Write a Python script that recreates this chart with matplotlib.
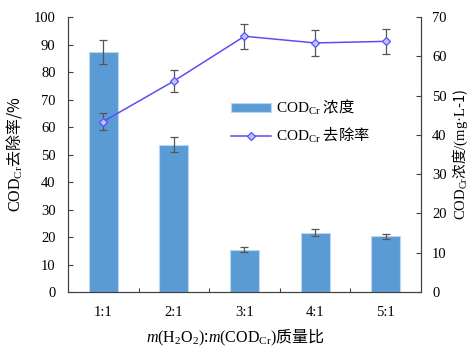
import matplotlib
matplotlib.use("Agg")
import matplotlib.pyplot as plt
import numpy as np

plt.rcParams['font.family'] = ['Liberation Serif', 'Noto Sans CJK SC']
plt.rcParams['mathtext.fontset'] = 'custom'
plt.rcParams['mathtext.rm'] = 'Liberation Serif'
plt.rcParams['mathtext.it'] = 'Liberation Serif:italic'
plt.rcParams['mathtext.bf'] = 'Liberation Serif:bold'

ratios = ['1:1', '2:1', '3:1', '4:1', '5:1']
# bars, read on the left scale
conc = [87.2, 53.6, 15.4, 21.6, 20.3]
conc_err = [4.3, 2.8, 0.8, 1.2, 0.9]
# line, read on the right scale
removal = [43.4, 53.7, 65.1, 63.4, 63.8]
removal_err = [2.2, 2.7, 3.2, 3.2, 3.1]

cjk = 'Noto Sans CJK SC'
bar_color = '#5b9bd5'
line_color = '#5a50f0'
err_color = '#555555'
tick_size = 10.5
label_size = 11.5

fig = plt.figure(figsize=(4.74, 3.47), dpi=100)
ax = fig.add_axes([0.1435, 0.1585, 0.7445, 0.7925])
ax2 = ax.twinx()

x = np.arange(len(ratios))
bars = ax.bar(x, conc, width=0.41, color=bar_color, edgecolor='#bcd6ee',
              linewidth=0.8, zorder=2, label=r'$\mathrm{COD_{Cr}}$ 浓度')
ax.errorbar(x, conc, yerr=conc_err, fmt='none', ecolor=err_color,
            elinewidth=0.9, capsize=3, capthick=0.9, zorder=3)

ax2.errorbar(x, removal, yerr=removal_err, fmt='none', ecolor=err_color,
             elinewidth=0.9, capsize=3, capthick=0.9, zorder=3)
line, = ax2.plot(x, removal, color=line_color, lw=1.1, marker='D',
                 markersize=4, markerfacecolor='#bcc4ff',
                 markeredgecolor=line_color, markeredgewidth=0.9,
                 zorder=4, label=r'$\mathrm{COD_{Cr}}$ 去除率')

ax.set_xlim(-0.5, len(ratios) - 0.5)
ax.set_ylim(0, 100)
ax2.set_ylim(0, 70)
ax.set_yticks(np.arange(0, 101, 10))
ax2.set_yticks(np.arange(0, 71, 10))

ax.set_xticks(x)
ax.set_xticklabels(ratios)
ax.set_xticks(np.arange(0.5, len(ratios) - 1, 1), minor=True)
ax.tick_params(axis='x', which='major', length=0, pad=10, labelsize=tick_size)
ax.tick_params(axis='x', which='minor', direction='in', length=3, width=0.8,
               color='#404040')
ax.tick_params(axis='y', direction='in', length=3.5, width=0.8,
               color='#404040', labelsize=tick_size, pad=9)
ax2.tick_params(axis='y', direction='in', length=3.5, width=0.8,
                color='#404040', labelsize=tick_size, pad=8)

for a in (ax, ax2):
    a.spines['top'].set_visible(False)
    for s in ('left', 'right', 'bottom'):
        a.spines[s].set_color('#404040')
        a.spines[s].set_linewidth(0.8)

ax.set_ylabel(r'$\mathrm{COD_{Cr}}$去除率/%', family=cjk, fontsize=label_size)
ax.yaxis.set_label_coords(-0.125, 0.5)
ax2.set_ylabel(r'$\mathrm{COD_{Cr}}$浓度$\mathrm{/(mg·L}$-1)', family=cjk,
               fontsize=10.5)
ax2.yaxis.set_label_coords(1.085, 0.5)
ax.set_xlabel(r'$m\mathrm{(H_2O_2)}$:$m\mathrm{(COD_{Cr})}$质量比', family=cjk,
              fontsize=label_size)
ax.xaxis.set_label_coords(0.475, -0.125)

ax.legend([bars, line], [bars.get_label(), line.get_label()],
          loc='center left', bbox_to_anchor=(0.462, 0.62), frameon=False,
          borderpad=0, borderaxespad=0,
          prop={'family': cjk, 'size': 11}, handlelength=2.6,
          handleheight=0.6, handletextpad=0.35, labelspacing=0.6)

fig.savefig('out.png', dpi=100)
